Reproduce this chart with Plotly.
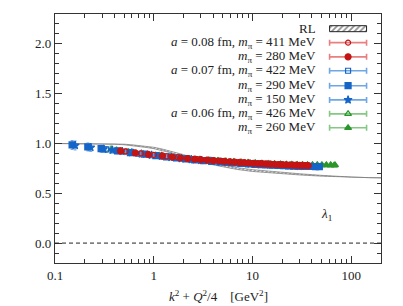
import plotly.graph_objects as go

# ---------------- data ----------------
rl_x = [0.1, 0.2, 0.3, 0.4, 0.5, 0.6, 0.7, 0.85, 1.0, 1.2, 1.5, 2.0, 2.5, 3.0, 4.0, 5.0, 7.0, 10.0, 15.0, 20.0, 30.0, 50.0, 70.0, 100.0, 150.0, 200.0]
rl_y = [1.0, 1.0, 0.998, 0.995, 0.99, 0.983, 0.975, 0.965, 0.955, 0.938, 0.915, 0.878, 0.848, 0.825, 0.795, 0.775, 0.748, 0.728, 0.712, 0.702, 0.69, 0.676, 0.668, 0.662, 0.657, 0.655]
rl_w = [0.0, 0.0, 0.001, 0.002, 0.003, 0.004, 0.005, 0.006, 0.007, 0.008, 0.009, 0.01, 0.01, 0.01, 0.01, 0.01, 0.009, 0.009, 0.008, 0.007, 0.006, 0.004, 0.002, 0.001, 0.0, 0.0]

x_r411 = [0.52, 0.74, 1.0, 1.35, 1.75, 2.2, 2.75, 3.4, 4.1, 4.9, 5.8, 6.8, 7.9, 9.1, 10.4, 11.8, 13.3, 14.9, 16.6, 18.4, 20.3, 22.3, 24.4, 26.6, 28.9, 31.3, 33.8, 36.0]
y_r411 = [0.92, 0.9, 0.885, 0.872, 0.861, 0.852, 0.844, 0.836, 0.83, 0.824, 0.819, 0.814, 0.81, 0.806, 0.803, 0.8, 0.797, 0.794, 0.792, 0.79, 0.788, 0.786, 0.785, 0.783, 0.782, 0.781, 0.78, 0.779]
e_r411 = [0.03, 0.026, 0.022, 0.02, 0.018, 0.016, 0.015, 0.014, 0.013, 0.013, 0.012, 0.012, 0.012, 0.011, 0.011, 0.011, 0.011, 0.01, 0.01, 0.01, 0.01, 0.01, 0.01, 0.01, 0.01, 0.01, 0.01, 0.01]

x_r280 = [0.46, 0.65, 0.88, 1.22, 1.54, 1.86, 2.2, 2.6, 3.0, 3.5, 4.0, 4.6, 5.2, 5.9, 6.6, 7.4, 8.3, 9.2, 10.2, 11.3, 12.5, 13.8, 15.2, 16.7, 18.3, 20.0, 21.8, 23.7, 25.7, 27.8, 30.0, 32.3, 34.7, 36.6]
y_r280 = [0.925, 0.905, 0.89, 0.876, 0.864, 0.854, 0.848, 0.842, 0.837, 0.832, 0.828, 0.824, 0.82, 0.816, 0.813, 0.81, 0.807, 0.804, 0.801, 0.799, 0.797, 0.795, 0.793, 0.791, 0.789, 0.787, 0.786, 0.784, 0.783, 0.782, 0.781, 0.78, 0.779, 0.778]
e_r280 = [0.03, 0.026, 0.022, 0.02, 0.018, 0.017, 0.016, 0.015, 0.015, 0.014, 0.014, 0.013, 0.013, 0.013, 0.012, 0.012, 0.012, 0.012, 0.011, 0.011, 0.011, 0.011, 0.011, 0.011, 0.01, 0.01, 0.01, 0.01, 0.01, 0.01, 0.01, 0.01, 0.01, 0.01]

x_b422 = [0.33, 0.5, 0.7, 0.95, 1.25, 1.6, 2.0, 2.5, 3.1, 3.8, 4.6, 5.5, 6.5, 7.7, 9.0, 10.5, 12.1, 13.9, 15.9, 18.0, 20.3, 22.8, 25.5, 28.4, 31.5, 34.8, 38.3, 42.0]
y_b422 = [0.94, 0.915, 0.897, 0.882, 0.868, 0.857, 0.847, 0.838, 0.83, 0.823, 0.817, 0.811, 0.806, 0.801, 0.797, 0.793, 0.79, 0.787, 0.784, 0.781, 0.779, 0.777, 0.775, 0.773, 0.772, 0.771, 0.77, 0.769]
e_b422 = [0.03, 0.025, 0.022, 0.02, 0.018, 0.016, 0.015, 0.014, 0.013, 0.013, 0.012, 0.012, 0.012, 0.011, 0.011, 0.011, 0.011, 0.01, 0.01, 0.01, 0.01, 0.01, 0.01, 0.01, 0.01, 0.01, 0.01, 0.01]

x_b290 = [0.149, 0.215, 0.293, 0.43, 0.58, 0.8, 1.05, 1.35, 1.7, 2.1, 2.6, 3.2, 3.9, 4.7, 5.6, 6.6, 7.8, 9.1, 10.6, 12.2, 14.0, 16.0, 18.2, 20.6, 23.2, 26.0, 29.0, 32.3, 35.8, 39.5, 43.5, 47.5]
y_b290 = [0.985, 0.965, 0.948, 0.925, 0.908, 0.893, 0.879, 0.866, 0.855, 0.845, 0.836, 0.828, 0.821, 0.815, 0.809, 0.804, 0.799, 0.795, 0.791, 0.788, 0.785, 0.782, 0.779, 0.777, 0.775, 0.773, 0.772, 0.771, 0.77, 0.769, 0.768, 0.768]
e_b290 = [0.045, 0.04, 0.035, 0.028, 0.024, 0.021, 0.019, 0.017, 0.016, 0.015, 0.014, 0.013, 0.013, 0.012, 0.012, 0.012, 0.011, 0.011, 0.011, 0.011, 0.01, 0.01, 0.01, 0.01, 0.01, 0.01, 0.01, 0.01, 0.01, 0.01, 0.01, 0.01]

x_b150 = [0.16, 0.23, 0.31, 0.38, 0.48, 0.6, 0.75, 0.95, 1.2, 1.5, 1.9, 2.4, 3.0, 3.8, 4.8, 6.0, 7.5, 9.5, 12.0, 15.0, 19.0, 24.0, 30.0]
y_b150 = [0.98, 0.96, 0.944, 0.933, 0.92, 0.908, 0.896, 0.884, 0.872, 0.86, 0.849, 0.839, 0.83, 0.822, 0.814, 0.807, 0.801, 0.795, 0.789, 0.784, 0.779, 0.775, 0.771]
e_b150 = [0.045, 0.04, 0.035, 0.03, 0.027, 0.024, 0.022, 0.02, 0.019, 0.018, 0.017, 0.016, 0.015, 0.015, 0.014, 0.014, 0.013, 0.013, 0.013, 0.012, 0.012, 0.012, 0.012]

x_g426 = [0.42, 0.62, 0.86, 1.15, 1.5, 1.9, 2.4, 3.0, 3.7, 4.5, 5.4, 6.5, 7.7, 9.1, 10.7, 12.5, 14.5, 16.8, 19.3, 22.1, 25.1, 28.4, 32.1, 36.1, 40.5, 45.2, 50.3, 55.8, 61.7, 67.0]
y_g426 = [0.932, 0.91, 0.893, 0.879, 0.866, 0.856, 0.847, 0.839, 0.832, 0.826, 0.821, 0.816, 0.811, 0.807, 0.803, 0.8, 0.797, 0.794, 0.791, 0.789, 0.787, 0.786, 0.785, 0.784, 0.783, 0.783, 0.782, 0.782, 0.782, 0.781]
e_g426 = [0.03, 0.025, 0.022, 0.02, 0.018, 0.016, 0.015, 0.014, 0.013, 0.013, 0.012, 0.012, 0.012, 0.011, 0.011, 0.011, 0.011, 0.01, 0.01, 0.01, 0.01, 0.01, 0.01, 0.01, 0.01, 0.01, 0.01, 0.01, 0.01, 0.01]

x_g260 = [0.37, 0.55, 0.78, 1.05, 1.4, 1.8, 2.3, 2.9, 3.6, 4.4, 5.3, 6.4, 7.6, 9.0, 10.6, 12.4, 14.4, 16.7, 19.2, 22.0, 25.0, 28.3, 32.0, 36.0, 40.5, 45.3, 50.5, 56.0, 62.0, 68.5]
y_g260 = [0.94, 0.917, 0.897, 0.882, 0.868, 0.857, 0.848, 0.84, 0.833, 0.827, 0.822, 0.817, 0.812, 0.808, 0.804, 0.8, 0.797, 0.794, 0.792, 0.79, 0.788, 0.787, 0.786, 0.785, 0.785, 0.784, 0.784, 0.783, 0.783, 0.783]
e_g260 = [0.035, 0.028, 0.024, 0.021, 0.019, 0.017, 0.016, 0.015, 0.014, 0.013, 0.013, 0.012, 0.012, 0.012, 0.011, 0.011, 0.011, 0.011, 0.01, 0.01, 0.01, 0.01, 0.01, 0.01, 0.01, 0.01, 0.01, 0.01, 0.01, 0.01]

x_ticks = [0.1, 1, 10, 100]
x_ticklabels = ["0.1", "1", "10", "100"]

legend_labels = [
    "RL",
    "<i>a</i> = 0.08 fm, <i>m</i><sub>π</sub> = 411 MeV",
    "<i>m</i><sub>π</sub> = 280 MeV",
    "<i>a</i> = 0.07 fm, <i>m</i><sub>π</sub> = 422 MeV",
    "<i>m</i><sub>π</sub> = 290 MeV",
    "<i>m</i><sub>π</sub> = 150 MeV",
    "<i>a</i> = 0.06 fm, <i>m</i><sub>π</sub> = 426 MeV",
    "<i>m</i><sub>π</sub> = 260 MeV",
]

RED, RED_L = "#c41414", "#e88080"
BLUE, BLUE_L = "#1565c8", "#6fa6e4"
GREEN, GREEN_L = "#2b962b", "#84c884"

# legend order
series = [
    (x_r411, y_r411, e_r411, RED, RED_L, "circle-open", 5),
    (x_r280, y_r280, e_r280, RED, RED_L, "circle", 6),
    (x_b422, y_b422, e_b422, BLUE, BLUE_L, "square-open", 5),
    (x_b290, y_b290, e_b290, BLUE, BLUE_L, "square", 6),
    (x_b150, y_b150, e_b150, BLUE, BLUE_L, "star", 6),
    (x_g426, y_g426, e_g426, GREEN, GREEN_L, "triangle-up-open", 6),
    (x_g260, y_g260, e_g260, GREEN, GREEN_L, "triangle-up", 6),
]
draw_order = [5, 6, 2, 4, 3, 0, 1]

FONT = "Liberation Serif"
TXT = "#222222"
FS = 13

fig = go.Figure()

# RL band
rl_up = [y + w for y, w in zip(rl_y, rl_w)]
rl_lo = [y - w for y, w in zip(rl_y, rl_w)]
fig.add_trace(go.Scatter(x=rl_x, y=rl_lo, mode="lines", line=dict(color="#777777", width=0.7),
                         showlegend=False, hoverinfo="skip"))
fig.add_trace(go.Scatter(x=rl_x, y=rl_up, mode="lines", line=dict(color="#777777", width=0.7),
                         fill="tonexty", fillcolor="rgba(255,255,255,0)",
                         fillpattern=dict(shape="/", fgcolor="#333333", bgcolor="white", size=3, solidity=0.5),
                         showlegend=False, hoverinfo="skip"))

# zero line
fig.add_hline(y=0, line=dict(color="#222222", width=1, dash="4px,3px"))

# lattice data
for k in draw_order:
    xs, ys, es, c, cl, sym, sz = series[k]
    fig.add_trace(go.Scatter(
        x=xs, y=ys, mode="markers",
        error_y=dict(type="data", array=es, color=cl, thickness=1, width=1.5),
        marker=dict(symbol=sym, size=sz, color=c, line=dict(color=c, width=1.2)),
        showlegend=False,
    ))

# ---------------- manual legend (overlay axes in plot fractions) ----------------
leg_rows = [0.941, 0.885, 0.828, 0.772, 0.712, 0.655, 0.599, 0.543]
leg_xc, leg_hw = 0.899, 0.0567
leg_text_x = 0.804

fig.add_trace(go.Scatter(
    x=[leg_xc - leg_hw, leg_xc + leg_hw, leg_xc + leg_hw, leg_xc - leg_hw, leg_xc - leg_hw],
    y=[leg_rows[0] - 0.012, leg_rows[0] - 0.012, leg_rows[0] + 0.012, leg_rows[0] + 0.012, leg_rows[0] - 0.012],
    mode="lines", fill="toself", line=dict(color="#222222", width=1),
    fillcolor="white",
    fillpattern=dict(shape="/", fgcolor="#222222", bgcolor="white", size=4, solidity=0.45),
    xaxis="x2", yaxis="y2", showlegend=False, hoverinfo="skip"))

for i, (xs, ys, es, c, cl, sym, sz) in enumerate(series):
    fig.add_trace(go.Scatter(
        x=[leg_xc], y=[leg_rows[i + 1]], mode="markers",
        error_x=dict(type="constant", value=leg_hw, color=cl, thickness=1.6, width=3),
        marker=dict(symbol=sym, size=sz, color=c, line=dict(color=c, width=1.2)),
        xaxis="x2", yaxis="y2", showlegend=False, hoverinfo="skip"))

annotations = []
for lab, yy in zip(legend_labels, leg_rows):
    annotations.append(dict(x=leg_text_x, y=yy, xref="x2", yref="y2", text=lab, showarrow=False,
                            xanchor="right", yanchor="middle", height=13, borderpad=0,
                            font=dict(family=FONT, size=FS, color=TXT)))
annotations.append(dict(x=0.832, y=0.193, xref="x2", yref="y2", text="<i>λ</i><sub>1</sub>", showarrow=False,
                        xanchor="center", yanchor="middle", font=dict(family=FONT, size=FS, color=TXT)))
# x-axis title (paper coords are relative to the plot area)
annotations.append(dict(x=0.5, y=-0.133, xref="paper", yref="paper",
                        text="<i>k</i><sup>2</sup> + <i>Q</i><sup>2</sup>/4    [GeV<sup>2</sup>]",
                        showarrow=False, xanchor="center", yanchor="middle",
                        font=dict(family=FONT, size=FS, color=TXT)))

fig.update_layout(
    width=403, height=306,
    margin=dict(l=55, r=22, t=14, b=43),
    paper_bgcolor="white", plot_bgcolor="white",
    font=dict(family=FONT, size=FS, color=TXT),
    showlegend=False,
    hovermode=False,
    annotations=annotations,
    xaxis=dict(
        type="log", range=[-1, 2.30103],
        tickvals=x_ticks, ticktext=x_ticklabels,
        ticks="inside", ticklen=7, tickwidth=1, tickcolor="#333333",
        minor=dict(ticks="inside", ticklen=4, tickwidth=1, tickcolor="#333333", dtick="D1", showgrid=False),
        showline=True, linecolor="#333333", linewidth=1.2, mirror="allticks",
        showgrid=False, zeroline=False,
    ),
    yaxis=dict(
        range=[-0.2, 2.3], tick0=0, dtick=0.5, tickformat=".1f",
        ticks="inside", ticklen=7, tickwidth=1, tickcolor="#333333",
        minor=dict(ticks="inside", ticklen=4, tickwidth=1, tickcolor="#333333", dtick=0.1, showgrid=False),
        showline=True, linecolor="#333333", linewidth=1.2, mirror="allticks",
        showgrid=False, zeroline=False,
    ),
    xaxis2=dict(overlaying="x", range=[0, 1], visible=False, fixedrange=True),
    yaxis2=dict(overlaying="y", range=[0, 1], visible=False, fixedrange=True),
)

fig.write_html("out.html", config={"displayModeBar": False, "staticPlot": True},
               post_script="document.body.style.margin='0px';document.body.style.overflow='hidden';")
